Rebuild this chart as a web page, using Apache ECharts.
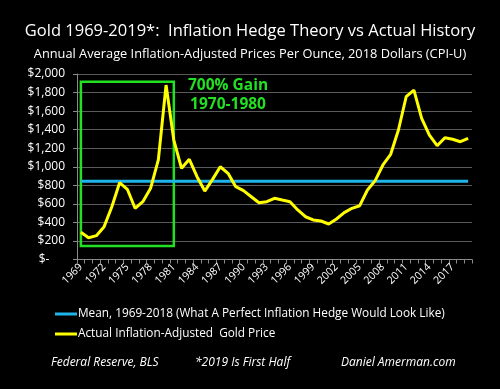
<!DOCTYPE html>
<html><head><meta charset="utf-8">
<script src="https://cdn.jsdelivr.net/npm/echarts@6/dist/echarts.min.js"></script>
<style>html,body{margin:0;padding:0;background:#000}#c{width:500px;height:389px}</style>
</head><body><div id="c"></div>
<script>
const years = [];
for (let y = 1969; y <= 2019; y++) years.push(String(y));
const goldPrice = [293,235,257,354,569,828,757,552,623,767,1073,1881,1288,983,1080,893,738,864,1000,929,785,742,677,612,623,660,641,623,534,461,426,415,383,437,505,552,580,749,850,1019,1134,1396,1755,1827,1522,1342,1227,1313,1296,1270,1306];
const meanValue = 843;
const meanLine = years.map(() => meanValue);
const yTicks = [0,200,400,600,800,1000,1200,1400,1600,1800,2000];
const boxFrom = 0.33, boxTo = 11.85, boxLow = 146, boxHigh = 1917;
const titleText = 'Gold 1969-2019*:  Inflation Hedge Theory vs Actual History';
const subText = 'Annual Average Inflation-Adjusted Prices Per Ounce, 2018 Dollars (CPI-U)';
const meanName = 'Mean, 1969-2018 (What A Perfect Inflation Hedge Would Look Like)';
const goldName = 'Actual Inflation-Adjusted  Gold Price';
const footers = ['Federal Reserve, BLS', '*2019 Is First Half', 'Daniel Amerman.com'];
const gainText = ['700% Gain', '1970-1980'];

const FONT = 'Open Sans';
const chart = echarts.init(document.getElementById('c'));
chart.setOption({
  backgroundColor: '#000',
  animation: false,
  title: [
    {text: titleText, left: 'center', top: 18, textStyle: {color: '#fff', fontSize: 16.5, fontWeight: 'normal', fontFamily: FONT}},
    {text: subText, left: 'center', top: 43, textStyle: {color: '#fff', fontSize: 12.8, fontWeight: 'normal', fontFamily: FONT}},
    {text: footers[0], left: 46, top: 352, textStyle: {color: '#fff', fontSize: 12, fontStyle: 'italic', fontWeight: 'normal', fontFamily: FONT}},
    {text: footers[1], left: 190, top: 352, textStyle: {color: '#fff', fontSize: 12, fontStyle: 'italic', fontWeight: 'normal', fontFamily: FONT}},
    {text: footers[2], left: 336, top: 352, textStyle: {color: '#fff', fontSize: 12, fontStyle: 'italic', fontWeight: 'normal', fontFamily: FONT}}
  ],
  legend: {
    orient: 'vertical', left: 50, top: 303, itemGap: 8, itemWidth: 22, itemHeight: 3,
    icon: 'rect',
    textStyle: {color: '#fff', fontSize: 11.8, fontFamily: FONT, padding: [0,0,0,-4]},
    data: [meanName, goldName]
  },
  grid: {left: 77, right: 28, top: 74, bottom: 129.5},
  xAxis: {
    type: 'category', data: years, boundaryGap: true,
    axisLine: {lineStyle: {color: '#8a8a8a', width: 1}},
    axisTick: {show: true, interval: 0, length: 4, lineStyle: {color: '#8a8a8a'}},
    axisLabel: {interval: 2, rotate: 45, color: '#fff', fontSize: 10.5, fontFamily: FONT, margin: 6}
  },
  yAxis: {
    type: 'value', min: 0, max: 2000, interval: 200,
    axisLine: {show: true, lineStyle: {color: '#8a8a8a'}},
    axisTick: {show: true, length: 4, lineStyle: {color: '#8a8a8a'}},
    splitLine: {lineStyle: {color: '#5a5a5a', width: 1}},
    axisLabel: {color: '#fff', fontSize: 12, fontFamily: FONT, margin: 12,
      formatter: v => v === 0 ? '$-     ' : '$' + v.toLocaleString('en-US')}
  },
  series: [
    {name: meanName, type: 'line', data: meanLine, symbol: 'none', lineStyle: {color: '#1fb4ea', width: 3}, itemStyle: {color: '#1fb4ea'}},
    {name: goldName, type: 'line', data: goldPrice, symbol: 'none', lineStyle: {color: '#ffff00', width: 3}, itemStyle: {color: '#ffff00'},
      markArea: {silent: true,
        itemStyle: {color: 'rgba(0,0,0,0)', borderColor: '#22e022', borderWidth: 2.5},
        data: [[{coord: [boxFrom, boxHigh]}, {coord: [boxTo, boxLow]}]]
      }
    }
  ]
});
const p1 = chart.convertToPixel({seriesIndex: 1}, [18.6, 1870]);
const p2 = chart.convertToPixel({seriesIndex: 1}, [18.6, 1665]);
chart.setOption({graphic: [
  {type: 'text', x: p1[0], y: p1[1], style: {text: gainText[0], fill: '#22e022', font: 'bold 15.5px "' + FONT + '"', textAlign: 'center', textVerticalAlign: 'middle'}},
  {type: 'text', x: p2[0], y: p2[1], style: {text: gainText[1], fill: '#22e022', font: 'bold 15.5px "' + FONT + '"', textAlign: 'center', textVerticalAlign: 'middle'}}
]});
</script></body></html>
